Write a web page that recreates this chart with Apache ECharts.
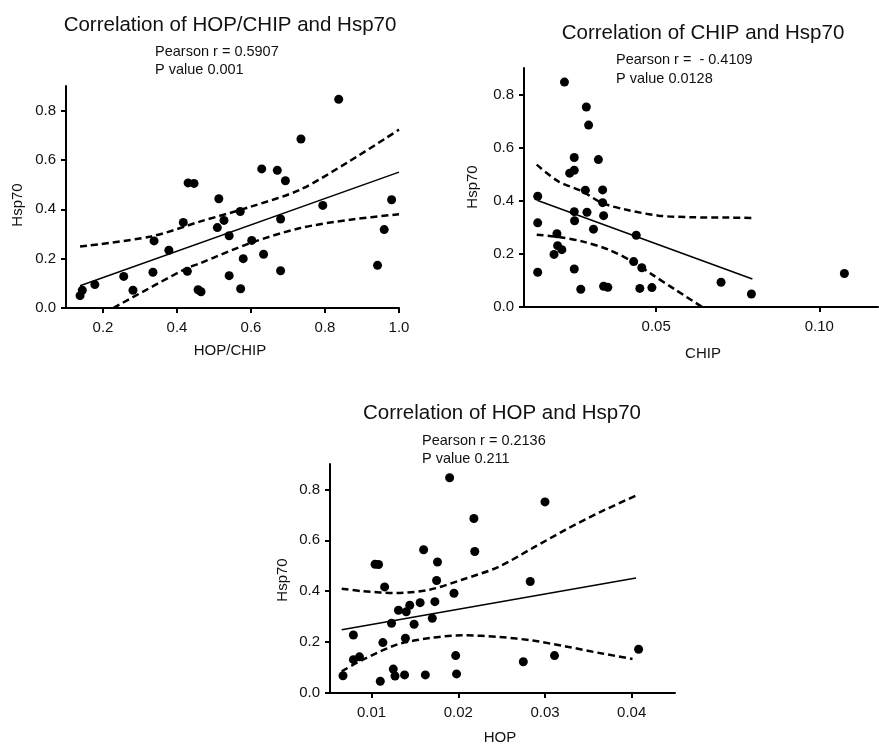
<!DOCTYPE html>
<html>
<head>
<meta charset="utf-8">
<script src="https://cdn.jsdelivr.net/npm/echarts@6/dist/echarts.min.js"></script>
<style>
  html, body { margin: 0; padding: 0; background: #fff; }
  #chart { width: 879px; height: 744px; }
</style>
</head>
<body>
<div id="chart"></div>
<script>
// HOP/CHIP vs Hsp70
const hopChipX = [0.138, 0.144, 0.178, 0.256, 0.281, 0.335, 0.338, 0.378, 0.417, 0.428, 0.430, 0.446,
  0.457, 0.465, 0.509, 0.513, 0.527, 0.541, 0.541, 0.571, 0.572, 0.579, 0.602, 0.629, 0.634, 0.671,
  0.680, 0.680, 0.693, 0.735, 0.794, 0.837, 0.942, 0.960, 0.980]
const hopChipY = [0.050, 0.072, 0.095, 0.128, 0.072, 0.145, 0.272, 0.234, 0.347, 0.149, 0.507, 0.505,
  0.074, 0.066, 0.326, 0.443, 0.355, 0.293, 0.131, 0.391, 0.078, 0.200, 0.274, 0.564, 0.218, 0.558,
  0.361, 0.151, 0.516, 0.685, 0.416, 0.846, 0.173, 0.318, 0.439]
const hopChipFit = [[0.138, 0.0905], [1.0, 0.551]]
const hopChipUpper = [[0.138, 0.249], [0.33, 0.29], [0.4635, 0.351], [0.598, 0.41], [0.733, 0.48], [0.866, 0.595], [1.0, 0.723]]
const hopChipLower = [[0.228, 0.0], [0.418, 0.155], [0.4635, 0.182], [0.598, 0.263], [0.733, 0.324], [0.868, 0.358], [1.0, 0.38]]

// CHIP vs Hsp70
const chipX = [0.0219, 0.0286, 0.0293, 0.0249, 0.0323, 0.0235, 0.0249, 0.0283, 0.0336, 0.0336, 0.0137,
  0.0249, 0.0288, 0.0339, 0.0250, 0.0308, 0.0137, 0.0196, 0.0439, 0.0198, 0.0211, 0.0187, 0.0431,
  0.0456, 0.0249, 0.0137, 0.0269, 0.0339, 0.0352, 0.0450, 0.0487, 0.0699, 0.0792, 0.1077]
const chipY = [0.847, 0.753, 0.685, 0.563, 0.555, 0.504, 0.515, 0.440, 0.441, 0.393, 0.417,
  0.359, 0.357, 0.344, 0.325, 0.293, 0.317, 0.276, 0.270, 0.231, 0.216, 0.198, 0.171,
  0.148, 0.143, 0.131, 0.067, 0.078, 0.074, 0.070, 0.073, 0.093, 0.049, 0.126]
const chipFit = [[0.0137, 0.401], [0.0795, 0.1055]]
const chipUpper = [[0.0134, 0.536], [0.020, 0.473], [0.0273, 0.436], [0.0334, 0.392], [0.0406, 0.367], [0.0508, 0.344],
  [0.0611, 0.338], [0.0713, 0.337], [0.0795, 0.335]]
const chipLower = [[0.0134, 0.272], [0.020, 0.264], [0.0273, 0.247], [0.0354, 0.216], [0.0426, 0.172], [0.0488, 0.122],
  [0.0559, 0.065], [0.0641, 0.0]]

// HOP vs Hsp70
const hopX = [0.0190, 0.0300, 0.0218, 0.0160, 0.0219, 0.0176, 0.0104, 0.0108, 0.0175, 0.0283, 0.0115,
  0.0195, 0.0156, 0.0144, 0.0173, 0.0131, 0.0140, 0.0170, 0.0123, 0.0149, 0.0079, 0.0139, 0.0113,
  0.0408, 0.0079, 0.0086, 0.0197, 0.0311, 0.0275, 0.0125, 0.0127, 0.0138, 0.0162, 0.0198, 0.0067, 0.0110]
const hopY = [0.846, 0.751, 0.686, 0.563, 0.556, 0.515, 0.506, 0.505, 0.442, 0.438, 0.417,
  0.392, 0.355, 0.345, 0.359, 0.325, 0.319, 0.294, 0.274, 0.270, 0.228, 0.215, 0.198,
  0.172, 0.131, 0.142, 0.147, 0.147, 0.123, 0.094, 0.067, 0.071, 0.071, 0.075, 0.068, 0.046]
const hopFit = [[0.00655, 0.249], [0.0405, 0.452]]
const hopUpper = [[0.00655, 0.41], [0.009, 0.400], [0.0129, 0.393], [0.0167, 0.406], [0.0205, 0.446], [0.0246, 0.495],
  [0.0286, 0.570], [0.0324, 0.642], [0.0363, 0.710], [0.0405, 0.776]]
const hopLower = [[0.00655, 0.085], [0.009, 0.131], [0.0129, 0.19], [0.0167, 0.216], [0.0205, 0.227], [0.0248, 0.220],
  [0.0286, 0.206], [0.0324, 0.183], [0.0363, 0.157], [0.0401, 0.134]]

const yTicks = [0, 0.2, 0.4, 0.6, 0.8]
const hopChipTicks = [0.2, 0.4, 0.6, 0.8, 1.0]
const chipTicks = [0.05, 0.10]
const hopTicks = [0.01, 0.02, 0.03, 0.04]

const FONT = "'Liberation Sans', Arial, sans-serif"

const chart = echarts.init(document.getElementById('chart'))

const zip = (xs, ys) => xs.map((x, i) => [x, ys[i]])

const makeX = (idx, min, max, ticks, digits) => ({
  type: 'value',
  gridIndex: idx,
  min: min,
  max: max,
  splitLine: { show: false },
  axisLine: { onZero: false, lineStyle: { color: '#000', width: 2 } },
  axisTick: { length: 5, lineStyle: { color: '#000', width: 2 }, customValues: ticks },
  axisLabel: {
    color: '#111', fontSize: 15, fontFamily: FONT, margin: 12,
    customValues: ticks,
    formatter: v => v.toFixed(digits)
  }
})

const makeY = (idx) => ({
  type: 'value',
  gridIndex: idx,
  min: 0,
  max: 0.9,
  splitLine: { show: false },
  axisLine: { lineStyle: { color: '#000', width: 2 } },
  axisTick: { length: 5, lineStyle: { color: '#000', width: 2 }, customValues: yTicks },
  axisLabel: {
    color: '#111', fontSize: 15, fontFamily: FONT, margin: 10,
    customValues: yTicks,
    formatter: v => v.toFixed(1)
  }
})

const panelSeries = (idx, pts, fit, upper, lower) => [
  {
    type: 'scatter', xAxisIndex: idx, yAxisIndex: idx, data: pts,
    symbolSize: 9, itemStyle: { color: '#000', opacity: 1 }, z: 5
  },
  {
    type: 'line', xAxisIndex: idx, yAxisIndex: idx, data: fit,
    showSymbol: false, lineStyle: { color: '#000', width: 1.5 }
  },
  {
    type: 'line', xAxisIndex: idx, yAxisIndex: idx, data: upper,
    showSymbol: false, smooth: 0.3,
    lineStyle: { color: '#000', width: 2.5, type: [7, 4] }
  },
  {
    type: 'line', xAxisIndex: idx, yAxisIndex: idx, data: lower,
    showSymbol: false, smooth: 0.3,
    lineStyle: { color: '#000', width: 2.5, type: [7, 4] }
  }
]

const txt = (text, x, y, size, align, rotate) => ({
  type: 'text',
  x: x,
  y: y,
  rotation: rotate ? Math.PI / 2 : 0,
  style: {
    text: text,
    fill: '#111',
    font: size + 'px ' + FONT,
    textAlign: align || 'center',
    textVerticalAlign: 'middle'
  }
})

const option = {
  backgroundColor: '#fff',
  animation: false,
  grid: [
    { left: 66, top: 86, width: 333, height: 222 },
    { left: 524, top: 68, width: 354, height: 239 },
    { left: 330, top: 464, width: 345, height: 229 }
  ],
  xAxis: [
    makeX(0, 0.1, 1.0, hopChipTicks, 1),
    makeX(1, 0.0095, 0.118, chipTicks, 2),
    makeX(2, 0.0052, 0.045, hopTicks, 2)
  ],
  yAxis: [makeY(0), makeY(1), makeY(2)],
  series: [
    ...panelSeries(0, zip(hopChipX, hopChipY), hopChipFit, hopChipUpper, hopChipLower),
    ...panelSeries(1, zip(chipX, chipY), chipFit, chipUpper, chipLower),
    ...panelSeries(2, zip(hopX, hopY), hopFit, hopUpper, hopLower)
  ],
  graphic: [
    txt('Correlation of HOP/CHIP and Hsp70', 230, 25, 20.5),
    txt('Pearson r = 0.5907', 155, 52, 14.5, 'left'),
    txt('P value 0.001', 155, 70, 14.5, 'left'),
    txt('HOP/CHIP', 230, 351, 15),
    txt('Hsp70', 18, 205, 15, 'center', true),

    txt('Correlation of CHIP and Hsp70', 703, 33, 20.5),
    txt('Pearson r =  - 0.4109', 616, 60, 14.5, 'left'),
    txt('P value 0.0128', 616, 79, 14.5, 'left'),
    txt('CHIP', 703, 354, 15),
    txt('Hsp70', 473, 187, 15, 'center', true),

    txt('Correlation of HOP and Hsp70', 502, 413, 20.5),
    txt('Pearson r = 0.2136', 422, 441, 14.5, 'left'),
    txt('P value 0.211', 422, 459, 14.5, 'left'),
    txt('HOP', 500, 738, 15),
    txt('Hsp70', 283, 580, 15, 'center', true)
  ]
}

chart.setOption(option)
</script>
</body>
</html>
